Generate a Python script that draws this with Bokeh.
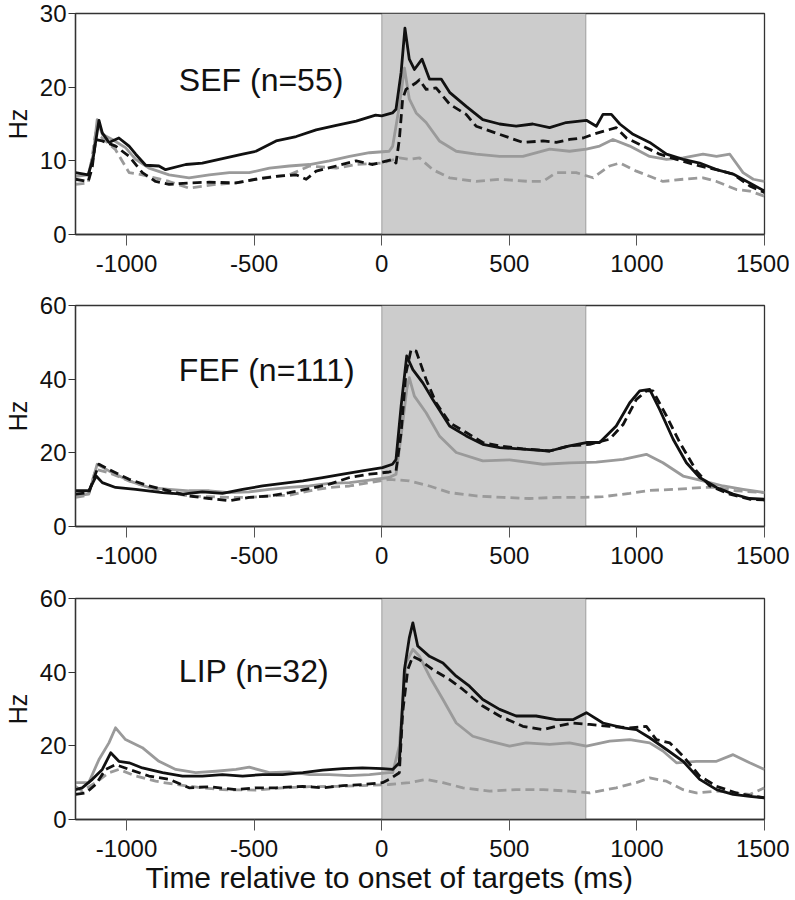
from bokeh.plotting import figure
from bokeh.layouts import column
from bokeh.models import Range1d, BoxAnnotation, FixedTicker, Title
from bokeh.core.properties import value
from bokeh.embed import file_html
from bokeh.resources import INLINE

FONT = "Liberation Sans"
BLACK = "#111111"
GRAY = "#9a9a9a"

X_TICKS = [-1000, -500, 0, 500, 1000, 1500]
X_LABEL = "Time relative to onset of targets (ms)"
PANEL_NAMES = ["SEF (n=55)", "FEF (n=111)", "LIP (n=32)"]
Y_TICKS_SEF = [0, 10, 20, 30]
Y_TICKS_FEF = [0, 20, 40, 60]
Y_TICKS_LIP = [0, 20, 40, 60]

# (time ms, rate Hz)
SEF_BLACK_SOLID = [(-1200, 8.4), (-1150, 8.1), (-1130, 10.5), (-1108, 15.5), (-1095, 13.8), (-1069, 12.5),
                   (-1030, 13.1), (-990, 12.0), (-964, 10.9), (-925, 9.4), (-873, 9.3), (-847, 8.8), (-768, 9.5),
                   (-703, 9.7), (-624, 10.3), (-545, 10.9), (-493, 11.3), (-414, 12.7), (-335, 13.3), (-257, 14.2),
                   (-178, 14.8), (-100, 15.4), (-24, 16.2), (0, 16.1), (42, 16.5), (56, 17.0), (76, 22.0), (91, 28.0),
                   (108, 23.8), (128, 22.4), (158, 23.8), (187, 21.1), (233, 21.1), (266, 19.3), (331, 17.4),
                   (396, 15.6), (462, 15.0), (527, 14.7), (592, 15.0), (658, 14.5), (723, 15.2), (802, 15.5),
                   (841, 14.7), (867, 16.3), (900, 16.3), (933, 15.0), (985, 13.6), (1050, 12.5), (1116, 10.9),
                   (1181, 10.2), (1246, 9.7), (1312, 8.8), (1377, 8.2), (1442, 7.0), (1500, 5.9)]
SEF_BLACK_DASH = [(-1200, 7.5), (-1150, 7.2), (-1135, 9.0), (-1121, 12.9), (-1095, 12.7), (-1043, 12.0),
                  (-990, 10.6), (-938, 8.4), (-886, 7.2), (-833, 6.8), (-755, 7.0), (-676, 7.1), (-571, 7.0),
                  (-493, 7.5), (-414, 7.9), (-335, 8.1), (-296, 7.5), (-257, 8.6), (-178, 9.3), (-100, 10.0),
                  (-35, 9.5), (42, 10.2), (56, 9.7), (69, 12.9), (82, 18.4), (95, 19.7), (135, 20.6), (148, 21.0),
                  (174, 19.7), (213, 19.9), (266, 17.7), (331, 16.3), (370, 14.7), (462, 13.6), (553, 12.5),
                  (632, 12.7), (684, 12.5), (736, 12.9), (789, 13.1), (828, 13.6), (867, 14.0), (919, 14.5),
                  (959, 13.1), (1024, 12.0), (1089, 10.9), (1155, 10.2), (1246, 9.3), (1312, 8.8), (1377, 8.2),
                  (1442, 6.6), (1500, 5.7)]
SEF_GRAY_SOLID = [(-1200, 7.9), (-1150, 8.1), (-1130, 11.0), (-1115, 15.6), (-1095, 13.6), (-1056, 12.9),
                  (-1004, 11.8), (-964, 10.2), (-912, 9.0), (-833, 8.1), (-755, 7.7), (-676, 8.1), (-597, 8.4),
                  (-519, 8.4), (-440, 9.0), (-362, 9.3), (-283, 9.5), (-205, 10.0), (-126, 10.6), (-48, 11.1),
                  (29, 11.3), (43, 12.0), (69, 17.4), (89, 22.6), (108, 18.4), (135, 16.5), (174, 15.2), (226, 12.7),
                  (292, 11.3), (370, 10.9), (462, 10.6), (553, 10.6), (658, 11.6), (736, 11.3), (802, 11.6),
                  (854, 12.0), (906, 12.9), (972, 12.0), (1050, 10.6), (1116, 10.2), (1181, 10.4), (1259, 10.9),
                  (1312, 10.6), (1364, 10.9), (1416, 8.4), (1456, 7.5), (1500, 7.2)]
SEF_GRAY_DASH = [(-1200, 6.8), (-1150, 7.0), (-1121, 13.8), (-1095, 13.1), (-1043, 11.5), (-990, 8.4),
                 (-938, 8.1), (-833, 7.2), (-755, 6.3), (-650, 6.8), (-571, 7.0), (-467, 7.7), (-362, 8.1),
                 (-283, 9.3), (-178, 9.0), (-100, 9.5), (3, 9.7), (69, 10.4), (108, 10.2), (148, 10.4), (200, 8.8),
                 (266, 7.7), (370, 7.2), (462, 7.5), (579, 7.2), (632, 7.2), (684, 8.4), (762, 8.4), (828, 7.7),
                 (893, 9.3), (933, 9.7), (998, 8.6), (1050, 7.9), (1102, 7.2), (1181, 7.5), (1259, 7.7),
                 (1312, 7.2), (1390, 6.1), (1442, 5.9), (1500, 5.2)]

FEF_BLACK_SOLID = [(-1200, 9.7), (-1148, 9.7), (-1119, 13.7), (-1095, 11.9), (-1043, 10.6), (-964, 10.1),
                   (-859, 9.2), (-781, 8.8), (-703, 9.4), (-624, 9.0), (-545, 10.1), (-467, 11.0), (-388, 11.7),
                   (-309, 12.4), (-231, 13.3), (-152, 14.2), (-76, 15.1), (3, 16.0), (42, 16.9), (56, 18.2),
                   (76, 32.7), (98, 46.3), (122, 42.6), (161, 39.0), (200, 34.5), (266, 27.3), (331, 24.6),
                   (396, 22.3), (462, 21.4), (553, 21.0), (658, 20.5), (736, 21.9), (802, 22.8), (854, 22.8),
                   (919, 27.3), (972, 33.6), (1011, 36.8), (1050, 37.2), (1089, 31.8), (1142, 23.7), (1194, 17.3),
                   (1246, 13.3), (1312, 10.6), (1377, 8.8), (1442, 7.6), (1500, 7.4)]
FEF_BLACK_DASH = [(-1200, 8.8), (-1148, 9.2), (-1108, 16.9), (-1069, 15.5), (-990, 12.8), (-912, 11.0),
                  (-833, 9.7), (-755, 8.3), (-676, 7.6), (-597, 7.0), (-519, 7.9), (-440, 8.3), (-362, 9.2),
                  (-283, 10.3), (-205, 11.5), (-126, 13.3), (-48, 14.2), (29, 14.8), (56, 15.1), (76, 25.5),
                  (95, 41.7), (115, 48.0), (135, 47.6), (174, 39.9), (213, 33.6), (266, 28.2), (331, 25.5),
                  (396, 22.8), (462, 21.9), (553, 21.1), (658, 20.5), (736, 21.9), (815, 22.3), (893, 23.7),
                  (946, 27.7), (998, 34.5), (1037, 36.8), (1063, 36.8), (1116, 30.0), (1168, 22.8), (1233, 15.1),
                  (1286, 11.0), (1364, 8.8), (1442, 7.4), (1500, 7.2)]
FEF_GRAY_SOLID = [(-1200, 8.3), (-1148, 8.8), (-1115, 16.9), (-1069, 15.1), (-990, 12.4), (-912, 10.6),
                  (-833, 10.1), (-755, 9.7), (-676, 9.7), (-597, 9.2), (-519, 9.4), (-440, 10.1), (-362, 10.6),
                  (-283, 11.0), (-205, 11.7), (-126, 11.9), (-48, 12.6), (29, 13.3), (56, 14.2), (76, 24.6),
                  (98, 37.2), (108, 40.4), (128, 35.4), (174, 30.9), (226, 24.6), (292, 20.1), (396, 17.8),
                  (501, 18.1), (632, 16.9), (736, 17.3), (841, 17.5), (946, 18.2), (1037, 19.6), (1102, 17.3),
                  (1181, 13.7), (1259, 12.4), (1338, 11.0), (1416, 10.1), (1500, 9.2)]
FEF_GRAY_DASH = [(-1200, 7.9), (-1150, 8.5), (-1121, 15.5), (-1069, 14.6), (-990, 12.4), (-912, 10.6),
                 (-833, 9.2), (-755, 8.3), (-676, 8.1), (-597, 7.9), (-519, 7.9), (-440, 8.3), (-362, 8.5),
                 (-283, 9.7), (-205, 10.6), (-126, 11.0), (-48, 11.9), (29, 12.8), (108, 12.4), (187, 11.0),
                 (266, 9.2), (370, 8.3), (475, 7.9), (579, 7.6), (684, 7.9), (789, 7.9), (867, 8.1), (972, 9.0),
                 (1050, 9.8), (1155, 10.1), (1259, 10.6), (1312, 10.6), (1390, 9.7), (1500, 9.2)]

LIP_BLACK_SOLID = [(-1200, 8.1), (-1174, 8.6), (-1134, 10.9), (-1095, 13.6), (-1062, 18.1), (-1030, 15.8),
                   (-990, 15.4), (-938, 14.0), (-859, 12.7), (-781, 11.8), (-703, 11.8), (-624, 12.2), (-545, 11.8),
                   (-467, 12.2), (-388, 12.2), (-309, 12.7), (-231, 13.4), (-152, 13.8), (-76, 14.0), (3, 13.8),
                   (43, 13.6), (69, 15.4), (89, 40.7), (108, 49.3), (122, 53.4), (141, 47.1), (187, 44.3),
                   (240, 42.5), (292, 38.9), (344, 36.2), (396, 32.6), (462, 29.9), (527, 28.1), (605, 28.1),
                   (684, 27.1), (749, 27.1), (802, 29.0), (867, 26.2), (946, 24.9), (998, 24.4), (1050, 22.2),
                   (1116, 19.0), (1181, 15.8), (1246, 10.9), (1312, 8.1), (1377, 6.8), (1442, 6.3), (1500, 5.9)]
LIP_BLACK_DASH = [(-1200, 6.8), (-1160, 7.2), (-1121, 9.5), (-1082, 13.6), (-1043, 14.9), (-990, 13.6),
                  (-912, 11.8), (-833, 10.9), (-755, 8.6), (-676, 8.9), (-571, 8.1), (-493, 8.6), (-414, 8.6),
                  (-309, 9.0), (-231, 8.6), (-152, 9.2), (-76, 9.5), (3, 10.0), (30, 10.9), (69, 12.7), (82, 29.0),
                  (102, 40.7), (122, 44.3), (148, 43.4), (200, 40.7), (266, 38.0), (318, 35.3), (396, 30.8),
                  (462, 28.1), (553, 25.3), (632, 24.4), (684, 25.3), (749, 26.2), (815, 25.8), (893, 25.3),
                  (972, 24.9), (1037, 25.3), (1076, 21.7), (1129, 20.8), (1181, 17.2), (1246, 11.8), (1312, 9.0),
                  (1390, 7.2), (1442, 6.5), (1500, 5.9)]
LIP_GRAY_SOLID = [(-1200, 10.0), (-1148, 10.0), (-1108, 16.3), (-1069, 20.8), (-1043, 24.9), (-1004, 21.7),
                  (-938, 19.5), (-873, 15.8), (-807, 13.6), (-729, 12.7), (-650, 13.1), (-571, 13.6), (-519, 14.2),
                  (-440, 12.7), (-362, 12.9), (-283, 12.2), (-205, 12.2), (-126, 11.9), (-48, 12.2), (29, 12.7),
                  (43, 12.7), (69, 19.9), (95, 42.5), (122, 46.2), (148, 44.3), (187, 38.9), (240, 32.6),
                  (292, 26.2), (357, 22.6), (423, 21.3), (501, 19.9), (566, 20.8), (658, 20.4), (736, 20.8),
                  (802, 19.9), (893, 21.3), (972, 21.7), (1050, 20.8), (1102, 18.6), (1155, 15.4), (1233, 15.8),
                  (1312, 15.8), (1377, 17.6), (1442, 15.4), (1500, 13.6)]
LIP_GRAY_DASH = [(-1200, 9.0), (-1174, 7.7), (-1121, 10.0), (-1069, 12.7), (-1030, 13.6), (-964, 11.8),
                 (-886, 10.4), (-807, 9.5), (-703, 8.6), (-624, 8.1), (-493, 8.0), (-388, 8.6), (-283, 8.9),
                 (-178, 9.0), (-76, 9.2), (29, 9.5), (108, 10.0), (174, 10.9), (240, 10.0), (318, 8.6), (423, 7.7),
                 (527, 8.1), (632, 8.1), (736, 7.7), (815, 7.2), (919, 8.6), (998, 10.0), (1050, 11.3),
                 (1116, 10.4), (1181, 8.1), (1233, 7.2), (1312, 7.7), (1390, 7.2), (1442, 6.8), (1500, 8.6)]


def make_panel(name, name_y, ymax, yticks, series, border_bottom):
    p = figure(frame_width=689, frame_height=221,
               x_range=Range1d(-1200, 1500), y_range=Range1d(0, ymax),
               output_backend="svg", toolbar_location=None,
               min_border_left=70, min_border_right=25, min_border_top=13,
               min_border_bottom=border_bottom)
    p.xgrid.visible = False
    p.ygrid.visible = False
    p.outline_line_color = "#333333"
    p.outline_line_width = 1.3
    p.background_fill_color = "white"
    p.border_fill_color = "white"

    p.add_layout(BoxAnnotation(left=0, right=800, fill_color="#cccccc", fill_alpha=1.0,
                               line_color="#333333", line_width=1.2, level="underlay"))

    styles = [(GRAY, "9 5"), (GRAY, "solid"), (BLACK, "9 5"), (BLACK, "solid")]
    for pts, (col, dash) in zip(series, styles):
        p.line([a for a, b in pts], [b for a, b in pts], line_color=col, line_width=2.8,
               line_dash=dash, line_join="round")

    p.text(x=[-795], y=[name_y], text=[name], text_font=value(FONT), text_font_size="32px",
           text_baseline="middle", text_align="left", text_color="#111111")

    xa = p.xaxis[0]
    xa.ticker = FixedTicker(ticks=X_TICKS)
    xa.major_label_overrides = {t: str(t) for t in X_TICKS}
    xa.minor_tick_line_color = None
    xa.major_tick_in = 0
    xa.major_tick_out = 11
    xa.major_tick_line_color = "#555555"
    xa.axis_line_color = "#333333"
    xa.axis_line_width = 1.3
    xa.major_label_standoff = 9
    xa.major_label_text_font = FONT
    xa.major_label_text_font_size = "24px"
    xa.major_label_text_color = "#111111"

    ya = p.yaxis[0]
    ya.ticker = FixedTicker(ticks=yticks)
    ya.minor_tick_line_color = None
    ya.major_tick_in = 0
    ya.major_tick_out = 7
    ya.major_tick_line_color = "#333333"
    ya.axis_line_color = "#333333"
    ya.axis_line_width = 1.3
    ya.major_label_standoff = 2
    ya.major_label_text_font = FONT
    ya.major_label_text_font_size = "24px"
    ya.major_label_text_color = "#111111"
    ya.axis_label = "Hz"
    ya.axis_label_text_font = FONT
    ya.axis_label_text_font_size = "25px"
    ya.axis_label_text_font_style = "normal"
    ya.axis_label_text_color = "#111111"
    ya.axis_label_standoff = 5
    return p


p1 = make_panel(PANEL_NAMES[0], 21, 30, Y_TICKS_SEF,
                [SEF_GRAY_DASH, SEF_GRAY_SOLID, SEF_BLACK_DASH, SEF_BLACK_SOLID], 58)
p2 = make_panel(PANEL_NAMES[1], 42.6, 60, Y_TICKS_FEF,
                [FEF_GRAY_DASH, FEF_GRAY_SOLID, FEF_BLACK_DASH, FEF_BLACK_SOLID], 59)
p3 = make_panel(PANEL_NAMES[2], 40.3, 60, Y_TICKS_LIP,
                [LIP_GRAY_DASH, LIP_GRAY_SOLID, LIP_BLACK_DASH, LIP_BLACK_SOLID], 80)
p3.add_layout(Title(text=X_LABEL, align="left", offset=70, text_font=FONT,
                    text_font_size="30px", text_font_style="normal", text_color="#111111",
                    standoff=-2), "below")

layout = column(p1, p2, p3, spacing=0)
open("out.html", "w").write(file_html(layout, INLINE))
